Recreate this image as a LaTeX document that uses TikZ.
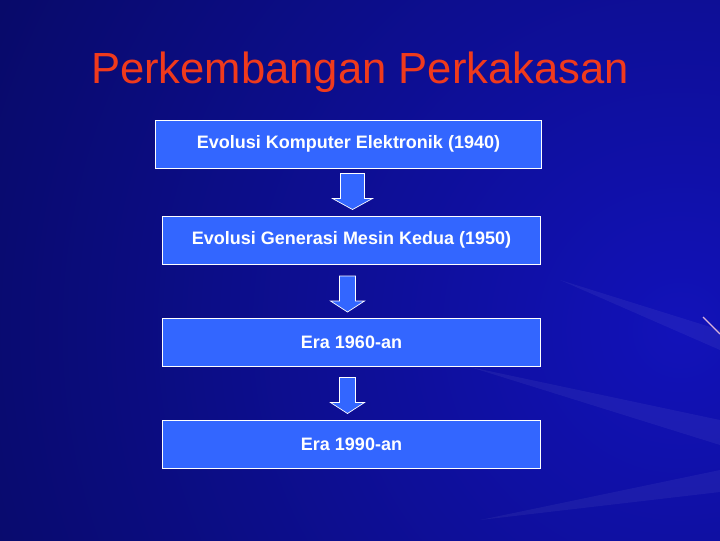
\documentclass[tikz,border=0pt]{standalone}
\usepackage{fontspec}
\setmainfont{Liberation Sans}
\usetikzlibrary{
    calc,
    positioning
}
\definecolor{bgdark}{RGB}{8,10,105}
\definecolor{bglight}{RGB}{18,18,185}
\definecolor{boxblue}{RGB}{51,102,255}
\definecolor{titlered}{RGB}{240,58,28}

\begin{document}
\begin{tikzpicture}[x=0.025cm, y=-0.025cm,
    stage/.style={draw=white, line width=0.7pt, fill=boxblue, text=white,
        font=\bfseries\fontsize{12.8}{15}\selectfont,
        minimum width=9.45cm, minimum height=1.2cm, inner sep=0pt},
    blockarrow/.style={draw=white, line width=0.5pt, fill=boxblue},
    streak/.style={fill=white, opacity=0.05}]
    \useasboundingbox (0,0) rectangle (720,540);

    % background
    \begin{scope}
        \clip (0,0) rectangle (720,540);
        \fill[bgdark] (0,0) rectangle (720,540);
        \shade[inner color=bglight, outer color=bgdark] (680,330) circle[radius=760];
        \fill[streak] (470,367) -- (720,420) -- (720,445) -- cycle;
        \fill[streak] (560,280) -- (720,330) -- (720,350) -- cycle;
        \fill[streak] (480,520) -- (720,470) -- (720,492) -- cycle;
        \draw[violet!30!white, line width=0.8pt] (703,317) -- (720,334);
    \end{scope}

    \node[font=\fontsize{31}{36}\selectfont, text=titlered, anchor=base] (title) at (360,83) {Perkembangan Perkakasan};

    \node[stage, minimum width=9.625cm] (b1) at (348.5,144) {Evolusi Komputer Elektronik (1940)};
    \node[stage] (b2) at (351.5,240) {Evolusi Generasi Mesin Kedua (1950)};
    \node[stage] (b3) at (351.5,342.5) {Era 1960-an};
    \node[stage] (b4) at (351.5,444) {Era 1990-an};

    \foreach \from/\to/\dx/\sw/\hw in {b1/b2/1/12/20, b2/b3/-4/8/17, b3/b4/-4/8/17}
        \draw[blockarrow] ($(\to.north)+(\dx-\sw,-42)$) -- ($(\to.north)+(\dx+\sw,-42)$)
            -- ($(\to.north)+(\dx+\sw,-17)$) -- ($(\to.north)+(\dx+\hw,-17)$)
            -- ($(\to.north)+(\dx,-6)$) -- ($(\to.north)+(\dx-\hw,-17)$)
            -- ($(\to.north)+(\dx-\sw,-17)$) -- cycle;
\end{tikzpicture}
\end{document}
